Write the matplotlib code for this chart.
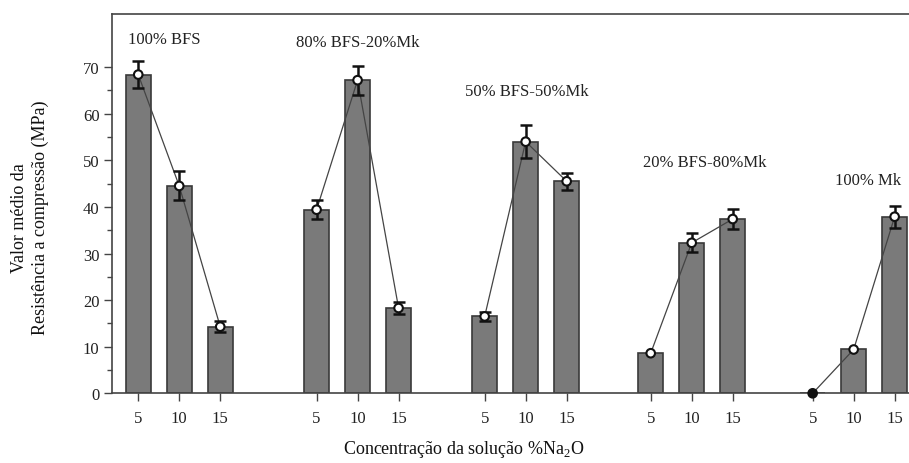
import matplotlib
matplotlib.use("Agg")
import matplotlib.pyplot as plt
import numpy as np
from matplotlib.ticker import FixedLocator

plt.rcParams["font.family"] = ["Liberation Serif", "DejaVu Serif"]
plt.rcParams["mathtext.fontset"] = "custom"
plt.rcParams["mathtext.rm"] = "Liberation Serif"

# Binder compositions and Na2O concentrations tested
groups = ["100% BFS", "80% BFS-20%Mk", "50% BFS-50%Mk", "20% BFS-80%Mk", "100% Mk"]
concentrations = ["5", "10", "15"]

# Mean compressive strength (MPa) for 5, 10, 15 % Na2O in each composition
strength = [
    [68.4, 44.5, 14.3],
    [39.4, 67.2, 18.3],
    [16.5, 54.0, 45.5],
    [8.6, 32.3, 37.4],
    [0.0, 9.4, 37.9],
]
# Standard deviation of each mean
std_dev = [
    [2.9, 3.1, 1.2],
    [2.1, 3.1, 1.2],
    [1.0, 3.5, 1.8],
    [0.0, 2.0, 2.2],
    [0.0, 0.0, 2.4],
]
y_ticks = [0, 10, 20, 30, 40, 50, 60, 70]

# Horizontal start of each group on the category axis
group_start = [0.0, 4.35, 8.45, 12.5, 16.45]
# Anchor of each composition label (x in axis units, y in MPa)
label_anchor = [(-0.25, 76.0), (3.85, 75.4), (7.97, 64.9), (12.31, 49.7), (17.0, 45.8)]

bar_face = "#7a7a7a"
bar_edge = "#3a3a3a"
ink = "#222222"

fig = plt.figure(figsize=(9.09, 4.64), dpi=100)
ax = fig.add_axes([112 / 909, 69.7 / 464, 1 - 112 / 909, (394.3 - 15) / 464])

tick_pos, tick_lab = [], []
for g, name in enumerate(groups):
    x = group_start[g] + np.arange(len(concentrations))
    vals = np.array(strength[g])
    errs = np.array(std_dev[g])
    ax.bar(x, vals, width=0.6, color=bar_face, edgecolor=bar_edge, linewidth=1.2, zorder=2)
    ax.plot(x, vals, color="#444444", linewidth=0.9, zorder=3)
    has_err = errs > 0
    ax.errorbar(x[has_err], vals[has_err], yerr=errs[has_err], fmt="none",
                ecolor="#111111", elinewidth=1.8, capsize=4, capthick=1.8, zorder=4)
    face = ["#111111" if v == 0 else "white" for v in vals]
    ax.scatter(x, vals, s=38, facecolors=face, edgecolors="#111111",
               linewidths=1.5, zorder=5, clip_on=False)
    tx, ty = label_anchor[g]
    ax.text(tx, ty, name, ha="left", va="center", fontsize=12, color=ink)
    tick_pos.extend(x)
    tick_lab.extend(concentrations)

ax.set_xlim(-0.64, 18.8)
ax.set_ylim(0, 81.4)
ax.set_xticks(tick_pos)
ax.set_xticklabels(tick_lab, fontsize=12, color=ink)
ax.yaxis.set_major_locator(FixedLocator(y_ticks))
ax.yaxis.set_minor_locator(FixedLocator([t + 5 for t in y_ticks[:-1]]))
ax.set_yticklabels([str(t) for t in y_ticks])
ax.tick_params(axis="y", which="major", direction="out", length=6, width=1.0,
               labelsize=12, colors="#444444", labelcolor=ink, pad=3)
ax.tick_params(axis="y", which="minor", direction="out", length=3.5, width=1.0,
               colors="#444444")
ax.tick_params(axis="x", which="major", direction="out", length=6, width=1.0,
               colors="#444444", labelcolor=ink, pad=6)

for side in ("left", "top", "bottom"):
    ax.spines[side].set_color("#444444")
    ax.spines[side].set_linewidth(1.2)
ax.spines["right"].set_visible(False)

fig.text(464 / 909, 1 - 450 / 464, "Concentração da solução %Na$_2$O",
         ha="center", va="center", fontsize=13, color="#111111")
fig.text(30 / 909, 1 - 218 / 464, "Valor médio da\nResistência a compressão (MPa)",
         ha="center", va="center", rotation=90, fontsize=13, color="#111111",
         multialignment="center", linespacing=1.35)

fig.savefig("out.png", dpi=100)
